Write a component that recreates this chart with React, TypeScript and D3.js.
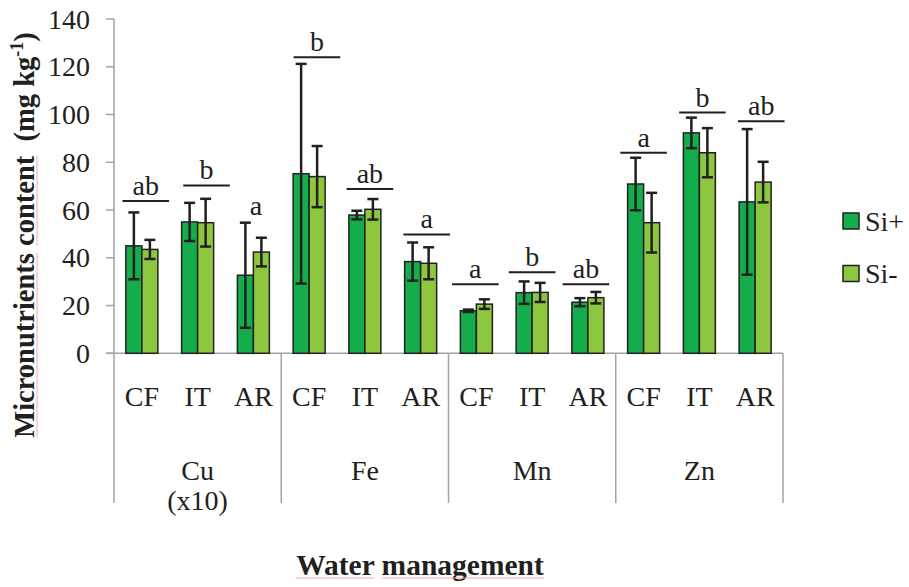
import React, { useLayoutEffect, useRef, useState } from "react";
import * as d3 from "d3";

// Micronutrient content by element and water management, with/without silicon
const elements = ["Cu", "Fe", "Mn", "Zn"];
const elementNotes = ["(x10)", "", "", ""];
const treatments = ["CF", "IT", "AR"];
const seriesNames = ["Si+", "Si-"];

const siPlus = [45, 55, 32.7, 75.2, 57.9, 38.4, 17.8, 25.4, 21.4, 70.9, 92.3, 63.4];
const siPlusErr = [14, 8, 22, 46, 1.8, 8, 0.5, 4.7, 1.7, 11, 6.4, 30.5];
const siMinus = [43.5, 54.7, 42.4, 74, 60.3, 37.7, 20.6, 25.5, 23.3, 54.7, 84, 71.7];
const siMinusErr = [4, 10, 6, 12.8, 4.3, 6.7, 2, 4, 2.4, 12.5, 10.3, 8.5];

// Significance letters, the level of the bracket line (in axis units) and whether a line is drawn
const letters = ["ab", "b", "a", "b", "ab", "a", "a", "b", "ab", "a", "b", "ab"];
const letterLevel = [63.8, 70.3, 55.4, 124, 68.8, 49.8, 28.9, 33.9, 28.9, 84, 100.8, 97.2];
const letterLine = [true, true, false, true, true, true, true, true, true, true, true, true];
const letterShift = [0.07, 0.16, 0.045, 0.14, 0.09, 0.11, -0.02, 0, -0.035, 0, 0.055, 0.11];

const yTicks = [0, 20, 40, 60, 80, 100, 120, 140];

const W = 909;
const H = 587;
const FONT = "Liberation Serif";
const INK = "#231f20";
const AXIS = "#a3a3a6";
const COLORS = ["#14ad4b", "#8dc63f"];
const SPELL = "#f2a7ad";

const txt = { fontFamily: FONT };

type Seg = { x1: number; x2: number; y: number };

// Measures the given character ranges of a text element so they can be underlined
function useWordUnderlines(ref: React.RefObject<SVGTextElement | null>, ranges: [number, number][]) {
  const [segs, setSegs] = useState<Seg[]>([]);
  useLayoutEffect(() => {
    const el = ref.current;
    if (!el) return;
    const out: Seg[] = ranges.map(([a, b]) => {
      const s = el.getStartPositionOfChar(a);
      const e = el.getEndPositionOfChar(b);
      return { x1: s.x, x2: e.x, y: s.y + 3 };
    });
    setSegs(out);
  }, []);
  return segs;
}

export default function App() {
  const y = d3.scaleLinear().domain([0, 140]).range([353.3, 19]);
  const cats = elements.flatMap((e) => treatments.map((t) => `${e}-${t}`));
  const x = d3.scaleBand<string>().domain(cats).range([114, 783]).padding(0);
  const bw = x.bandwidth();
  const inner = d3.scaleBand<string>().domain(seriesNames).range([-16, 16]).padding(0);
  const groupW = bw * treatments.length;
  const values = [siPlus, siMinus];
  const errs = [siPlusErr, siMinusErr];
  const baseY = y(0);
  const sepBottom = 503;

  const yTitleRef = useRef<SVGTextElement>(null);
  const xTitleRef = useRef<SVGTextElement>(null);
  const yUnder = useWordUnderlines(yTitleRef, [[0, 13], [15, 21]]);
  const xUnder = useWordUnderlines(xTitleRef, [[0, 4], [6, 15]]);

  return (
    <svg
      width={W}
      height={H}
      style={{ position: "absolute", left: 0, top: 0, background: "#fff", fontFamily: FONT }}
    >
      {/* y axis */}
      <line x1={114} x2={114} y1={y(140)} y2={baseY} stroke={AXIS} strokeWidth={1.5} />
      {yTicks.map((t) => (
        <g key={t}>
          <line x1={106} x2={114} y1={y(t)} y2={y(t)} stroke={AXIS} strokeWidth={1.5} />
          <text x={90} y={y(t)} dy="0.34em" textAnchor="end" fontSize={28} fill={INK} style={txt}>
            {t}
          </text>
        </g>
      ))}

      {/* x axis and group separators */}
      <line x1={106} x2={783} y1={baseY} y2={baseY} stroke={AXIS} strokeWidth={1.5} />
      {d3.range(elements.length + 1).map((i) => {
        const gx = 114 + i * groupW;
        return (
          <line key={i} x1={gx} x2={gx} y1={baseY} y2={sepBottom} stroke={AXIS} strokeWidth={1.5} />
        );
      })}

      {/* bars */}
      {cats.map((c, i) => {
        const cx = (x(c) as number) + bw / 2;
        return (
          <g key={c}>
            {seriesNames.map((s, k) => {
              const v = values[k][i];
              const x0 = cx + (inner(s) as number);
              return (
                <rect
                  key={s}
                  x={x0}
                  y={y(v)}
                  width={inner.bandwidth()}
                  height={baseY - y(v)}
                  fill={COLORS[k]}
                  stroke={INK}
                  strokeWidth={1.5}
                />
              );
            })}
            {seriesNames.map((s, k) => {
              const v = values[k][i];
              const e = errs[k][i];
              const ex = cx + (inner(s) as number) + inner.bandwidth() / 2;
              return (
                <g key={s} stroke={INK} strokeWidth={2.5}>
                  <line x1={ex} x2={ex} y1={y(v + e)} y2={y(v - e)} />
                  <line x1={ex - 5.5} x2={ex + 5.5} y1={y(v + e)} y2={y(v + e)} />
                  <line x1={ex - 5.5} x2={ex + 5.5} y1={y(v - e)} y2={y(v - e)} />
                </g>
              );
            })}
          </g>
        );
      })}

      {/* significance letters */}
      {cats.map((c, i) => {
        const cx = (x(c) as number) + bw / 2 + letterShift[i] * bw;
        const ly = y(letterLevel[i]);
        const half = 23.3;
        return (
          <g key={`l-${c}`}>
            {letterLine[i] && (
              <line x1={cx - half} x2={cx + half} y1={ly} y2={ly} stroke={INK} strokeWidth={2} />
            )}
            <text x={cx} y={ly - 6} textAnchor="middle" fontSize={28} fill={INK} style={txt}>
              {letters[i]}
            </text>
          </g>
        );
      })}

      {/* category labels */}
      {cats.map((c, i) => (
        <text
          key={`t-${c}`}
          x={(x(c) as number) + bw / 2}
          y={406}
          textAnchor="middle"
          fontSize={28}
          fill={INK}
          style={txt}
        >
          {treatments[i % treatments.length]}
        </text>
      ))}
      {elements.map((e, i) => {
        const gx = 114 + (i + 0.5) * groupW;
        return (
          <g key={e}>
            <text x={gx} y={480} textAnchor="middle" fontSize={28} fill={INK} style={txt}>
              {e}
            </text>
            {elementNotes[i] && (
              <text x={gx} y={510} textAnchor="middle" fontSize={28} fill={INK} style={txt}>
                {elementNotes[i]}
              </text>
            )}
          </g>
        );
      })}

      {/* legend */}
      {seriesNames.map((s, k) => (
        <g key={s} transform={`translate(843, ${213 + k * 52.5})`}>
          <rect x={0} y={0} width={16} height={16} fill={COLORS[k]} stroke={INK} strokeWidth={1.5} />
          <text x={22} y={8} dy="0.34em" fontSize={28} fill={INK} style={txt}>
            {s}
          </text>
        </g>
      ))}

      {/* axis titles */}
      <g transform="translate(34, 235) rotate(-90)">
        <text
          ref={yTitleRef}
          textAnchor="middle"
          fontSize={28.5}
          fontWeight="bold"
          fill={INK}
          style={txt}
        >
          {"Micronutrients content\u00a0 (mg kg"}
          <tspan fontSize={18} dy={-11}>-1</tspan>
          <tspan dy={11}>)</tspan>
        </text>
        {yUnder.map((s, i) => (
          <line key={i} x1={s.x1} x2={s.x2} y1={s.y} y2={s.y} stroke={SPELL} strokeWidth={1} />
        ))}
      </g>
      <text
        ref={xTitleRef}
        x={420}
        y={575}
        textAnchor="middle"
        fontSize={29.5}
        fontWeight="bold"
        fill={INK}
        style={txt}
      >
        Water management
      </text>
      {xUnder.map((s, i) => (
        <line key={i} x1={s.x1} x2={s.x2} y1={s.y} y2={s.y} stroke={SPELL} strokeWidth={1} />
      ))}
    </svg>
  );
}
